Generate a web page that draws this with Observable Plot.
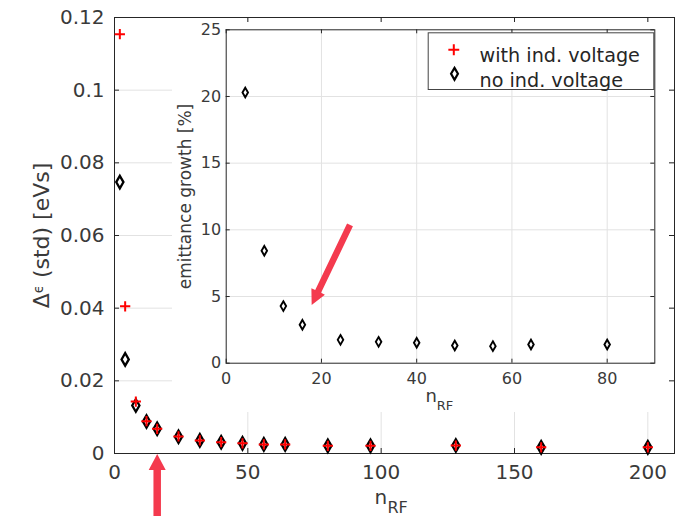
<!DOCTYPE html>
<html><head><meta charset="utf-8">
<script src="https://cdn.jsdelivr.net/npm/d3@7"></script>
<script src="https://cdn.jsdelivr.net/npm/@observablehq/plot@0.6"></script>
<style>
html,body{margin:0;padding:0;background:#fff;}
#wrap{position:relative;width:684px;height:516px;overflow:hidden;background:#fff;}
#inset{position:absolute;left:172px;top:22px;}
svg{display:block}
</style></head><body>
<div id="wrap"><div id="main"></div><div id="inset"></div></div>
<script>
// ---- data ----
const nMain = [2, 4, 8, 12, 16, 24, 32, 40, 48, 56, 64, 80, 96, 128, 160, 200];
const withVoltage = [0.1154, 0.0405, 0.0143, 0.0089, 0.0068, 0.0047, 0.0036, 0.0031, 0.0028, 0.0025, 0.0025, 0.0021, 0.0021, 0.0022, 0.0017, 0.0017];
const noVoltage = [0.0747, 0.0259, 0.0132, 0.0088, 0.0068, 0.0046, 0.0036, 0.0031, 0.0028, 0.0025, 0.0025, 0.0021, 0.0021, 0.0022, 0.0017, 0.0017];
const nInset = [4, 8, 12, 16, 24, 32, 40, 48, 56, 64, 80];
const growth = [20.3, 8.43, 4.28, 2.88, 1.75, 1.6, 1.53, 1.33, 1.28, 1.4, 1.4];
const xTicksMain = [0, 50, 100, 150, 200];
const yTicksMain = [0, 0.02, 0.04, 0.06, 0.08, 0.1, 0.12];
const xTicksInset = [0, 20, 40, 60, 80];
const yTicksInset = [0, 5, 10, 15, 20, 25];
const legendLabels = ["with ind. voltage", "no ind. voltage"];
// annotation arrows (data coordinates of each plot)
const arrowMain = [{x1: 16.2, y1: -0.0178, x2: 16.2, y2: -0.0003}];
const arrowInset = [{x1: 26.1, y1: 10.33, x2: 18.05, y2: 4.33}];

const mainData = nMain.map((n, i) => ({n, w: withVoltage[i], o: noVoltage[i]}));
const insetData = nInset.map((n, i) => ({n, g: growth[i]}));

const FONT = "DejaVu Sans, Verdana, sans-serif";
const AX = "#262626";
const GRID = "#e2e2e2";
const ARROW = "#f43a4e";

function arrowRender(shaft, headLen, headWid, color) {
  return (index, scales, values) => {
    const g = d3.create("svg:g");
    for (const i of index) {
      const x1 = values.x1[i], y1 = values.y1[i], x2 = values.x2[i], y2 = values.y2[i];
      const dx = x2 - x1, dy = y2 - y1, L = Math.hypot(dx, dy);
      const ux = dx / L, uy = dy / L, nx = -uy, ny = ux;
      const bx = x2 - ux * headLen, by = y2 - uy * headLen;
      const pts = [
        [x1 + nx * shaft / 2, y1 + ny * shaft / 2],
        [bx + nx * shaft / 2, by + ny * shaft / 2],
        [bx + nx * headWid / 2, by + ny * headWid / 2],
        [x2, y2],
        [bx - nx * headWid / 2, by - ny * headWid / 2],
        [bx - nx * shaft / 2, by - ny * shaft / 2],
        [x1 - nx * shaft / 2, y1 - ny * shaft / 2]
      ];
      g.append("path").attr("d", "M" + pts.map(p => p.join(",")).join("L") + "Z").attr("fill", color);
    }
    return g.node();
  };
}

// ---- main plot ----
const mW = 684, mH = 516, mT = 17, mR = 10, mB = 63, mL = 114;
const mIW = mW - mL - mR, mIH = mH - mT - mB;
const mainPlot = Plot.plot({
  width: mW, height: mH,
  marginTop: mT, marginRight: mR, marginBottom: mB, marginLeft: mL,
  x: {domain: [0, 210]},
  y: {domain: [0, 0.12]},
  style: {fontFamily: FONT, fontSize: "20px", color: "#3a3a3a", background: "white"},
  marks: [
    Plot.gridX(xTicksMain.slice(1), {stroke: GRID, strokeOpacity: 1}),
    Plot.gridY(yTicksMain.slice(1, -1), {stroke: GRID, strokeOpacity: 1}),
    Plot.frame({stroke: AX}),
    Plot.tickX(xTicksMain, {x: d => d, insetTop: mIH - 5, stroke: AX}),
    Plot.tickX(xTicksMain, {x: d => d, insetBottom: mIH - 5, stroke: AX}),
    Plot.tickY(yTicksMain, {y: d => d, insetRight: mIW - 5, stroke: AX}),
    Plot.tickY(yTicksMain, {y: d => d, insetLeft: mIW - 5, stroke: AX}),
    Plot.axisX({ticks: xTicksMain, tickSize: 0, tickPadding: 11, label: null, fontSize: 20, tickFormat: d => String(d)}),
    Plot.axisY({ticks: yTicksMain, tickSize: 0, tickPadding: 10, label: null, fontSize: 20, tickFormat: d => String(d)}),
    Plot.dot(mainData, {x: "n", y: "o", symbol: "diamond", r: 3.8, fill: "none", stroke: "black", strokeWidth: 2.3}),
    Plot.dot(mainData, {x: "n", y: "w", symbol: "plus", r: 3.4, fill: "none", stroke: "red", strokeWidth: 2}),
    Plot.text(["Δϵ (std) [eVs]"], {text: d => d, frameAnchor: "left", dx: -66, rotate: -90, lineAnchor: "bottom", textAnchor: "middle", fontSize: 22, fill: "#3a3a3a"}),
    Plot.text(["n"], {text: d => d, frameAnchor: "bottom-left", dx: 260, dy: 50, lineAnchor: "bottom", textAnchor: "start", fontSize: 20, fill: "#3a3a3a"}),
    Plot.text(["RF"], {text: d => d, frameAnchor: "bottom-left", dx: 273, dy: 59, lineAnchor: "bottom", textAnchor: "start", fontSize: 16, fill: "#3a3a3a"}),
    Plot.link(arrowMain, {x1: "x1", y1: "y1", x2: "x2", y2: "y2", stroke: ARROW, clip: false, render: arrowRender(7.5, 16, 17, ARROW)})
  ]
});
document.getElementById("main").appendChild(mainPlot);
d3.select(mainPlot).selectAll("text").each(function() {
  const t = d3.select(this);
  if (t.text() === "Δϵ (std) [eVs]") {
    t.text(null);
    t.append("tspan").text("Δ");
    t.append("tspan").attr("font-size", "0.6em").attr("dy", "-0.45em").text("ϵ");
    t.append("tspan").attr("dy", "0.27em").text(" (std) [eVs]");
  }
});

// ---- inset plot ----
const iW = 497, iH = 390, iT = 7.3, iR = 14.7, iB = 49.3, iL = 53.7;
const iIW = iW - iL - iR, iIH = iH - iT - iB;
const insetPlot = Plot.plot({
  width: iW, height: iH,
  marginTop: iT, marginRight: iR, marginBottom: iB, marginLeft: iL,
  x: {domain: [0, 90]},
  y: {domain: [0, 25]},
  style: {fontFamily: FONT, fontSize: "16px", color: "#3a3a3a", background: "white", overflow: "visible"},
  marks: [
    Plot.gridX(xTicksInset.slice(1), {stroke: GRID, strokeOpacity: 1}),
    Plot.gridY(yTicksInset.slice(1, -1), {stroke: GRID, strokeOpacity: 1}),
    Plot.frame({stroke: AX}),
    Plot.tickX(xTicksInset, {x: d => d, insetTop: iIH - 4, stroke: AX}),
    Plot.tickX(xTicksInset, {x: d => d, insetBottom: iIH - 4, stroke: AX}),
    Plot.tickY(yTicksInset, {y: d => d, insetRight: iIW - 4, stroke: AX}),
    Plot.tickY(yTicksInset, {y: d => d, insetLeft: iIW - 4, stroke: AX}),
    Plot.axisX({ticks: xTicksInset, tickSize: 0, tickPadding: 9, label: null, fontSize: 16, tickFormat: d => String(d)}),
    Plot.axisY({ticks: yTicksInset, tickSize: 0, tickPadding: 5, label: null, fontSize: 16, tickFormat: d => String(d)}),
    Plot.dot(insetData, {x: "n", y: "g", symbol: "diamond", r: 2.9, fill: "none", stroke: "black", strokeWidth: 1.9}),
    Plot.text(["emittance growth [%]"], {text: d => d, frameAnchor: "left", dx: -35, rotate: -90, lineAnchor: "bottom", textAnchor: "middle", fontSize: 17, fill: "#3a3a3a"}),
    Plot.text(["n"], {text: d => d, frameAnchor: "bottom-left", dx: 199.3, dy: 39, lineAnchor: "bottom", textAnchor: "start", fontSize: 18, fill: "#3a3a3a"}),
    Plot.text(["RF"], {text: d => d, frameAnchor: "bottom-left", dx: 210.5, dy: 46.6, lineAnchor: "bottom", textAnchor: "start", fontSize: 13, fill: "#3a3a3a"}),
    // legend
    Plot.frame({insetLeft: 202, insetTop: 3, insetRight: 1, insetBottom: iIH - 59.7, fill: "white", stroke: "#444"}),
    Plot.dot([legendLabels[0]], {frameAnchor: "top-left", dx: 227.6, dy: 20, symbol: "plus", r: 3.6, fill: "none", stroke: "red", strokeWidth: 2}),
    Plot.dot([legendLabels[1]], {frameAnchor: "top-left", dx: 228.3, dy: 44, symbol: "diamond", r: 3.6, fill: "none", stroke: "black", strokeWidth: 2.2}),
    Plot.text([legendLabels[0]], {text: d => d, frameAnchor: "top-left", dx: 253.3, dy: 19, textAnchor: "start", fontSize: 19.2, fill: "#262626"}),
    Plot.text([legendLabels[1]], {text: d => d, frameAnchor: "top-left", dx: 253.3, dy: 44, textAnchor: "start", fontSize: 19.2, fill: "#262626"}),
    Plot.link(arrowInset, {x1: "x1", y1: "y1", x2: "x2", y2: "y2", stroke: ARROW, clip: false, render: arrowRender(6.5, 15, 15, ARROW)})
  ]
});
document.getElementById("inset").appendChild(insetPlot);
</script>
</body></html>
